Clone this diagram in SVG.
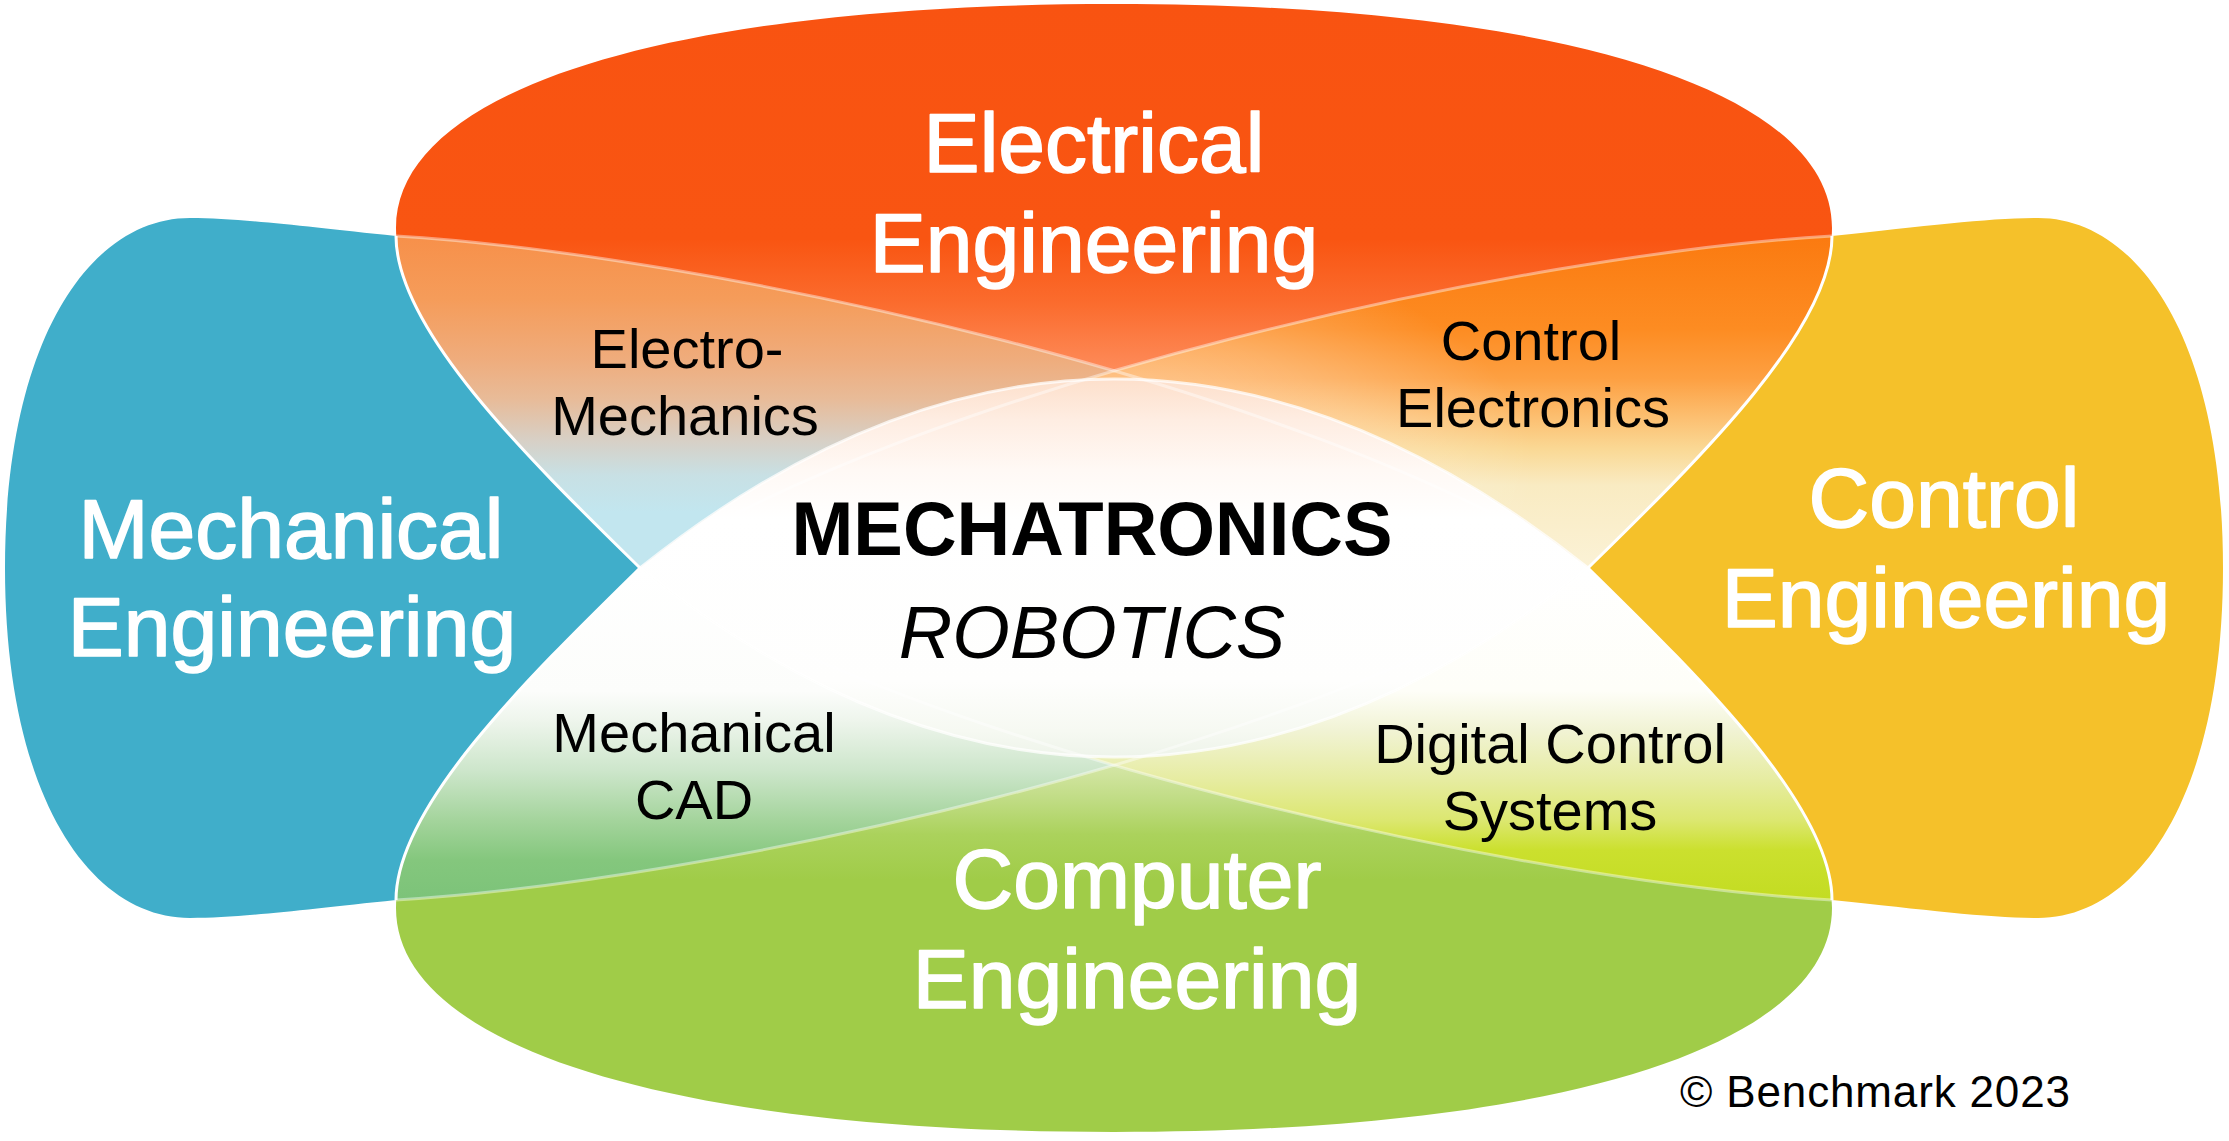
<svg xmlns="http://www.w3.org/2000/svg" width="2229" height="1141" viewBox="0 0 2229 1141">
<defs>
<style>
.big{font-family:"Liberation Sans",Arial,sans-serif;font-size:84px;fill:#FFFFFF;stroke:#FFFFFF;stroke-width:1.6;stroke-linejoin:round;text-anchor:middle}
.sub{font-family:"Liberation Sans",Arial,sans-serif;font-size:56px;fill:#000000;text-anchor:middle}
.edge{fill:none;stroke:#FFFFFF;stroke-width:3}
.xline{fill:none;stroke:#FFFFFF;stroke-opacity:0.42;stroke-width:3}
.lensline{fill:none;stroke:#FFFFFF;stroke-opacity:0.75;stroke-width:3}
</style>
<linearGradient id="gOrange" gradientUnits="userSpaceOnUse" x1="0" y1="0" x2="0" y2="380">
<stop offset="0" stop-color="#F95311"/>
<stop offset="0.63" stop-color="#F95512"/>
<stop offset="0.8" stop-color="#FB6C2E"/>
<stop offset="1" stop-color="#FE9060"/>
</linearGradient>
<linearGradient id="gGreen" gradientUnits="userSpaceOnUse" x1="0" y1="760" x2="0" y2="880">
<stop offset="0" stop-color="#D8E8AC"/>
<stop offset="0.33" stop-color="#C0DC84"/>
<stop offset="0.62" stop-color="#ABD25C"/>
<stop offset="1" stop-color="#A0CC48"/>
</linearGradient>
<linearGradient id="gEM" gradientUnits="userSpaceOnUse" x1="0" y1="236" x2="0" y2="568">
<stop offset="0" stop-color="#F7904A"/>
<stop offset="0.19" stop-color="#F59C5A"/>
<stop offset="0.37" stop-color="#EFAC7C"/>
<stop offset="0.49" stop-color="#E8BB98"/>
<stop offset="0.61" stop-color="#D8CFC4"/>
<stop offset="0.72" stop-color="#C8E0E4"/>
<stop offset="0.83" stop-color="#C2E6EF"/>
<stop offset="1" stop-color="#C2E6EF"/>
</linearGradient>
<linearGradient id="gCE" gradientUnits="userSpaceOnUse" x1="0" y1="236" x2="0" y2="568">
<stop offset="0" stop-color="#FB7A10"/>
<stop offset="0.28" stop-color="#FD8C22"/>
<stop offset="0.43" stop-color="#FDA042"/>
<stop offset="0.55" stop-color="#FCC072"/>
<stop offset="0.64" stop-color="#FAD894"/>
<stop offset="0.75" stop-color="#F9EBC2"/>
<stop offset="1" stop-color="#FBF2D6"/>
</linearGradient>
<radialGradient id="gGlow" gradientUnits="userSpaceOnUse" cx="1114" cy="470" r="420" gradientTransform="translate(1114 470) scale(1 0.55) translate(-1114 -470)">
<stop offset="0" stop-color="#FFFFFF" stop-opacity="0.55"/>
<stop offset="0.6" stop-color="#FFFFFF" stop-opacity="0.25"/>
<stop offset="1" stop-color="#FFFFFF" stop-opacity="0"/>
</radialGradient>
<linearGradient id="gMCAD" gradientUnits="userSpaceOnUse" x1="0" y1="568" x2="0" y2="900">
<stop offset="0" stop-color="#FFFFFF"/>
<stop offset="0.37" stop-color="#FCFDFB"/>
<stop offset="0.46" stop-color="#EEF5EC"/>
<stop offset="0.61" stop-color="#CDE6CB"/>
<stop offset="0.76" stop-color="#A4D49C"/>
<stop offset="0.88" stop-color="#84C77D"/>
<stop offset="1" stop-color="#7CC379"/>
</linearGradient>
<linearGradient id="gDCS" gradientUnits="userSpaceOnUse" x1="0" y1="568" x2="0" y2="900">
<stop offset="0" stop-color="#FFFFFF"/>
<stop offset="0.37" stop-color="#FEFEF8"/>
<stop offset="0.49" stop-color="#F1F3D4"/>
<stop offset="0.64" stop-color="#E6ECA0"/>
<stop offset="0.76" stop-color="#DCE770"/>
<stop offset="0.85" stop-color="#CBE02E"/>
<stop offset="1" stop-color="#C3DC22"/>
</linearGradient>
<linearGradient id="gLens" gradientUnits="userSpaceOnUse" x1="0" y1="380" x2="0" y2="757">
<stop offset="0" stop-color="#FDE0CC"/>
<stop offset="0.106" stop-color="#FEEDE2"/>
<stop offset="0.24" stop-color="#FFF9F5"/>
<stop offset="0.37" stop-color="#FFFFFF"/>
<stop offset="0.8" stop-color="#FEFEFD"/>
<stop offset="0.93" stop-color="#F6F9F2"/>
<stop offset="1" stop-color="#EEF4EA"/>
</linearGradient>
</defs>
<rect width="2229" height="1141" fill="#FFFFFF"/>

<g id="mechanical-engineering">
<path fill="#40AECA" d="M396,236 C300,226 240,218 190,218 C90,218 5,340 5,568 C5,796 90,918 190,918 C240,918 300,910 396,900 C396,806 530,676 640,568 C530,460 396,330 396,236 Z"/>
<text class="big" x="291" y="558">Mechanical</text>
<text class="big" x="292" y="656">Engineering</text>
</g>

<g id="control-engineering">
<path fill="#F5C12A" d="M1832,236 C1928,226 1988,218 2038,218 C2138,218 2223,340 2223,568 C2223,796 2138,918 2038,918 C1988,918 1928,910 1832,900 C1832,806 1698,676 1588,568 C1698,460 1832,330 1832,236 Z"/>
<text class="big" x="1944" y="527">Control</text>
<text class="big" x="1946" y="627">Engineering</text>
</g>

<g id="electrical-engineering">
<path fill="url(#gOrange)" d="M640,568 C530,460 396,330 396,228 C396,90 668,4 1114,4 C1560,4 1832,90 1832,228 C1832,330 1698,460 1588,568 Z"/>
</g>

<g id="computer-engineering">
<path fill="url(#gGreen)" d="M640,568 C530,676 396,806 396,908 C396,1046 668,1132 1114,1132 C1560,1132 1832,1046 1832,908 C1832,806 1698,676 1588,568 Z"/>
</g>

<g id="electro-mechanics">
<path fill="url(#gEM)" d="M396,236 C700,254 1300,382 1588,568 Q1114,190 640,568 C530,460 396,330 396,236 Z"/>
</g>

<g id="control-electronics">
<path fill="url(#gCE)" d="M1832,236 C1528,254 928,382 640,568 Q1114,190 1588,568 C1698,460 1832,330 1832,236 Z"/>
<path fill="url(#gGlow)" d="M1832,236 C1528,254 928,382 640,568 Q1114,190 1588,568 C1698,460 1832,330 1832,236 Z"/>
</g>

<g id="mechanical-cad">
<path fill="url(#gMCAD)" d="M396,900 C700,882 1300,754 1588,568 Q1114,946 640,568 C530,676 396,806 396,900 Z"/>
</g>

<g id="digital-control-systems">
<path fill="url(#gDCS)" d="M1832,900 C1528,882 928,754 640,568 Q1114,946 1588,568 C1698,676 1832,806 1832,900 Z"/>
</g>

<g id="mechatronics">
<path fill="url(#gLens)" d="M640,568 Q1114,190 1588,568 Q1114,946 640,568 Z"/>
</g>

<g id="connectors">
<path class="xline" d="M396,236 C700,254 1300,382 1588,568"/>
<path class="xline" d="M1832,236 C1528,254 928,382 640,568"/>
<path class="xline" d="M396,900 C700,882 1300,754 1588,568"/>
<path class="xline" d="M1832,900 C1528,882 928,754 640,568"/>
<path class="lensline" d="M640,568 Q1114,190 1588,568 Q1114,946 640,568 Z"/>
<path class="edge" d="M396,236 C396,330 530,460 640,568 C530,676 396,806 396,900"/>
<path class="edge" d="M1832,236 C1832,330 1698,460 1588,568 C1698,676 1832,806 1832,900"/>
</g>

<g id="labels">
<text class="big" x="1094" y="172">Electrical</text>
<text class="big" x="1094" y="272">Engineering</text>
<text class="big" x="1137" y="908">Computer</text>
<text class="big" x="1137" y="1008">Engineering</text>
<text class="sub" x="687" y="368">Electro-</text>
<text class="sub" x="685" y="435">Mechanics</text>
<text class="sub" x="1531" y="360">Control</text>
<text class="sub" x="1533" y="427">Electronics</text>
<text class="sub" x="694" y="752">Mechanical</text>
<text class="sub" x="694" y="819">CAD</text>
<text class="sub" x="1550" y="763">Digital Control</text>
<text class="sub" x="1550" y="830">Systems</text>
<text x="1092" y="555" font-family="'Liberation Sans',Arial,sans-serif" font-size="76" font-weight="bold" text-anchor="middle" fill="#000000" textLength="601" lengthAdjust="spacingAndGlyphs">MECHATRONICS</text>
<text x="1092" y="658" font-family="'Liberation Sans',Arial,sans-serif" font-size="74" font-style="italic" text-anchor="middle" fill="#000000">ROBOTICS</text>
</g>

<g id="copyright">
<text x="1680" y="1107" font-family="'Liberation Sans',Arial,sans-serif" font-size="44" fill="#000000" textLength="390" lengthAdjust="spacing">© Benchmark 2023</text>
</g>
</svg>
